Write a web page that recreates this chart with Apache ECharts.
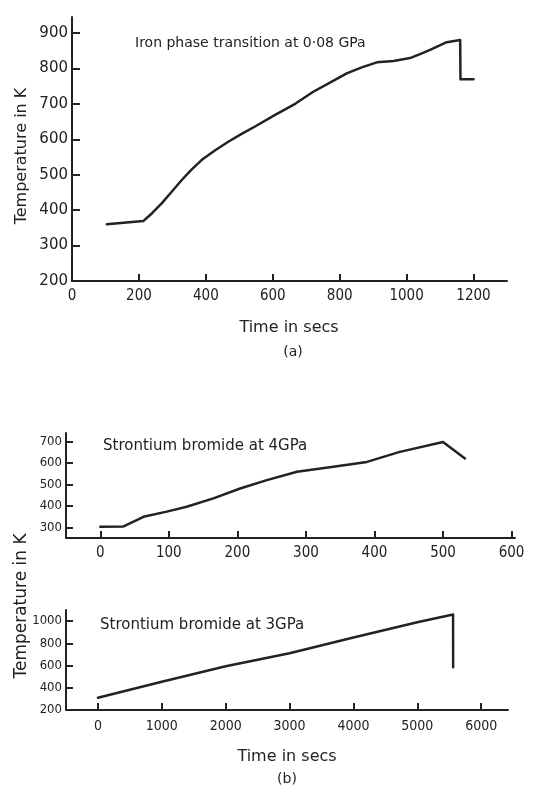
<!DOCTYPE html>
<html>
<head>
<meta charset="utf-8">
<script src="https://cdn.jsdelivr.net/npm/echarts@6/dist/echarts.min.js"></script>
<style>
html,body{margin:0;padding:0;background:#fff;}
#c{width:555px;height:785px;}
</style>
</head>
<body>
<div id="c"></div>
<script>
// ---- Data ----
// (a) Iron phase transition at 0.08 GPa
var ironTime = [104, 213, 240, 268, 298, 328, 358, 388, 428, 467, 507, 547, 607, 667, 721, 771, 821, 866, 911, 961, 1010, 1040, 1070, 1120, 1160, 1161, 1200];
var ironTemp = [360, 369, 392, 419, 452, 485, 515, 542, 569, 593, 615, 636, 669, 700, 734, 760, 786, 803, 817, 821, 829, 840, 852, 874, 880, 769, 769];
// (b) Strontium bromide at 4 GPa
var sr4Time = [0, 34, 63, 97, 126, 165, 204, 243, 287, 340, 389, 437, 500, 532];
var sr4Temp = [303, 304, 349, 373, 396, 435, 481, 520, 559, 582, 605, 652, 698, 621];
// (b) Strontium bromide at 3 GPa
var sr3Time = [0, 1000, 2000, 3000, 4000, 5000, 5560, 5561];
var sr3Temp = [310, 454, 594, 710, 852, 990, 1060, 585];

// Tick labels
var ironXTicks = [0, 200, 400, 600, 800, 1000, 1200];
var ironYTicks = [200, 300, 400, 500, 600, 700, 800, 900];
var sr4XTicks = [0, 100, 200, 300, 400, 500, 600];
var sr4YTicks = [300, 400, 500, 600, 700];
var sr3XTicks = [0, 1000, 2000, 3000, 4000, 5000, 6000];
var sr3YTicks = [200, 400, 600, 800, 1000];

function zip(a, b) { return a.map(function (v, i) { return [v, b[i]]; }); }

var INK = '#222';
var FONT = 'DejaVu Sans';
var COND = 'DejaVu Sans Condensed';
function plain(v) { return String(v); }

function xAx(idx, min, max, ticks, size, margin, fam) {
  return {
    type: 'value', gridIndex: idx, min: min, max: max,
    splitLine: { show: false },
    axisLine: { onZero: false, lineStyle: { color: INK, width: 2 } },
    axisTick: { inside: true, length: 7, customValues: ticks, lineStyle: { color: INK, width: 2 } },
    axisLabel: { customValues: ticks, formatter: plain, color: INK, fontSize: size, fontFamily: fam, margin: margin }
  };
}
function yAx(idx, min, max, ticks, size, margin, tickLen, fam) {
  return {
    type: 'value', gridIndex: idx, min: min, max: max,
    splitLine: { show: false },
    axisLine: { show: true, onZero: false, lineStyle: { color: INK, width: 2 } },
    axisTick: { show: true, inside: true, length: tickLen, customValues: ticks, lineStyle: { color: INK, width: 2 } },
    axisLabel: { customValues: ticks, formatter: plain, color: INK, fontSize: size, fontFamily: fam, margin: margin }
  };
}
function lineSeries(i, t, v) {
  return { type: 'line', xAxisIndex: i, yAxisIndex: i, data: zip(t, v), showSymbol: false,
    smooth: false, lineStyle: { color: INK, width: 2.5, join: 'round', cap: 'round' } };
}

var chart = echarts.init(document.getElementById('c'), null, { renderer: 'canvas' });
chart.setOption({
  backgroundColor: '#fff',
  animation: false,
  grid: [
    { left: 72, top: 17, width: 435, height: 264 },
    { left: 66, top: 433, width: 449, height: 105 },
    { left: 66, top: 610, width: 442, height: 100 }
  ],
  xAxis: [
    xAx(0, 0, 1300, ironXTicks, 15, 8, COND),
    xAx(1, -50, 605, sr4XTicks, 15, 8, COND),
    xAx(2, -500, 6420, sr3XTicks, 14, 9, COND)
  ],
  yAxis: [
    yAx(0, 200, 945, ironYTicks, 15, 4, 8, FONT),
    yAx(1, 250, 740, sr4YTicks, 13, 4, 7, COND),
    yAx(2, 200, 1100, sr3YTicks, 13, 4, 7, COND)
  ],
  series: [
    lineSeries(0, ironTime, ironTemp),
    lineSeries(1, sr4Time, sr4Temp),
    lineSeries(2, sr3Time, sr3Temp)
  ],
  graphic: [
    { type: 'text', x: 135, y: 43, style: { text: 'Iron phase transition at 0·08 GPa', fill: INK, font: '14px "' + FONT + '"', textVerticalAlign: 'middle' } },
    { type: 'text', x: 22, y: 156, rotation: Math.PI / 2, style: { text: 'Temperature in K', fill: INK, font: '16px "' + FONT + '"', textAlign: 'center', textVerticalAlign: 'middle' } },
    { type: 'text', x: 289, y: 328, style: { text: 'Time in secs', fill: INK, font: '16px "' + FONT + '"', textAlign: 'center', textVerticalAlign: 'middle' } },
    { type: 'text', x: 293, y: 352, style: { text: '(a)', fill: INK, font: '14px "' + FONT + '"', textAlign: 'center', textVerticalAlign: 'middle' } },
    { type: 'text', x: 103, y: 446, style: { text: 'Strontium bromide at 4GPa', fill: INK, font: '15px "' + FONT + '"', textVerticalAlign: 'middle' } },
    { type: 'text', x: 100, y: 625, style: { text: 'Strontium bromide at 3GPa', fill: INK, font: '15px "' + FONT + '"', textVerticalAlign: 'middle' } },
    { type: 'text', x: 22, y: 606, rotation: Math.PI / 2, style: { text: 'Temperature in K', fill: INK, font: '17px "' + FONT + '"', textAlign: 'center', textVerticalAlign: 'middle' } },
    { type: 'text', x: 287, y: 757, style: { text: 'Time in secs', fill: INK, font: '16px "' + FONT + '"', textAlign: 'center', textVerticalAlign: 'middle' } },
    { type: 'text', x: 287, y: 779, style: { text: '(b)', fill: INK, font: '14px "' + FONT + '"', textAlign: 'center', textVerticalAlign: 'middle' } }
  ]
});
</script>
</body>
</html>
